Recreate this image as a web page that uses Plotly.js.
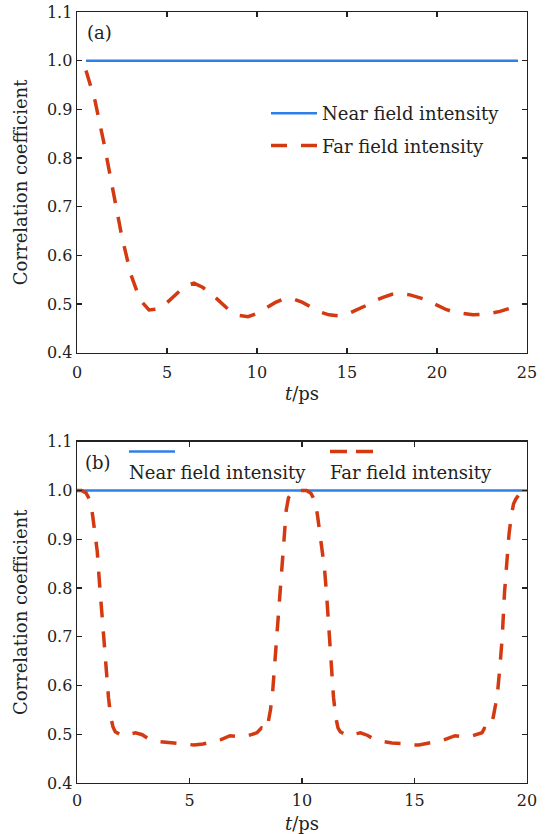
<!DOCTYPE html>
<html>
<head>
<meta charset="utf-8">
<script src="https://cdn.plot.ly/plotly-3.0.1.min.js"></script>
<style>html,body{margin:0;padding:0;background:#fff;}#chart{width:547px;height:834px;}</style>
</head>
<body>
<div id="chart"></div>
<script>
// ---- Panel (a) data ----
const nearA_t = [0.5, 24.5];
const nearA_r = [1.0, 1.0];
const farA_t = [0.5,1.0,1.5,2.0,2.5,3.0,3.5,4.0,4.5,5.0,5.5,6.0,6.5,7.0,7.5,8.0,8.5,9.0,9.5,10.0,10.5,11.0,11.5,12.0,12.5,13.0,13.5,14.0,14.5,15.0,15.5,16.0,16.5,17.0,17.5,18.0,18.5,19.0,19.5,20.0,20.5,21.0,21.5,22.0,22.5,23.0,23.5,24.0,24.5];
const farA_r = [0.980,0.918,0.830,0.737,0.637,0.560,0.509,0.488,0.490,0.503,0.520,0.537,0.543,0.534,0.520,0.503,0.486,0.477,0.474,0.481,0.492,0.503,0.511,0.511,0.504,0.494,0.484,0.478,0.476,0.479,0.487,0.496,0.506,0.514,0.520,0.521,0.519,0.514,0.508,0.498,0.489,0.483,0.480,0.478,0.479,0.481,0.485,0.491,0.495];

// ---- Panel (b) data ----
const nearB_t = [0, 20];
const nearB_r = [1.0, 1.0];
const farB_t = [0,0.2,0.4,0.6,0.7,0.8,0.9,1.0,1.1,1.2,1.3,1.4,1.5,1.6,1.7,1.85,2.0,2.3,2.6,2.9,3.2,3.6,4.0,4.4,4.8,5.2,5.6,6.0,6.4,6.8,7.2,7.6,8.0,8.2,8.4,8.5,8.6,8.7,8.8,8.9,9.0,9.1,9.2,9.3,9.4,9.6,9.8,10.0,10.2,10.4,10.6,10.7,10.8,10.9,11.0,11.1,11.2,11.3,11.4,11.5,11.6,11.7,11.85,12.0,12.3,12.6,12.9,13.2,13.6,14.0,14.4,14.8,15.2,15.6,16.0,16.4,16.8,17.2,17.6,18.0,18.1,18.3,18.5,18.6,18.7,18.8,18.9,19.0,19.1,19.2,19.3,19.4,19.5,19.7,19.9,20.0];
const farB_r = [1.000,1.000,0.995,0.978,0.947,0.915,0.875,0.810,0.745,0.680,0.625,0.575,0.535,0.515,0.505,0.500,0.497,0.500,0.503,0.499,0.490,0.485,0.483,0.482,0.479,0.478,0.480,0.484,0.489,0.497,0.495,0.497,0.503,0.513,0.508,0.525,0.550,0.590,0.655,0.720,0.780,0.850,0.910,0.960,0.985,0.998,1.000,1.000,1.000,0.994,0.976,0.945,0.910,0.877,0.840,0.782,0.710,0.635,0.576,0.535,0.513,0.505,0.500,0.497,0.500,0.503,0.498,0.490,0.485,0.482,0.481,0.478,0.478,0.481,0.485,0.490,0.497,0.495,0.497,0.503,0.512,0.510,0.535,0.560,0.590,0.640,0.700,0.790,0.855,0.910,0.947,0.972,0.982,0.995,1.000,1.000];

const legendNames = ["Near field intensity", "Far field intensity"];
const xTitle = "<i>t</i>/ps";
const yTitle = "Correlation coefficient";

const BLUE = "#2f7fe8";
const RED = "#d43a12";
const FONT = "DejaVu Serif";

const traces = [
  {x: nearA_t, y: nearA_r, xaxis: "x", yaxis: "y", mode: "lines", name: legendNames[0],
   line: {color: BLUE, width: 2.5}, legendgroup: "g1"},
  {x: farA_t, y: farA_r, xaxis: "x", yaxis: "y", mode: "lines", name: legendNames[1],
   line: {color: RED, width: 3.5, dash: "16px,14px"}, legendgroup: "g2"},
  {x: nearB_t, y: nearB_r, xaxis: "x2", yaxis: "y2", mode: "lines", name: legendNames[0],
   line: {color: BLUE, width: 2.5}, showlegend: false},
  {x: farB_t, y: farB_r, xaxis: "x2", yaxis: "y2", mode: "lines", name: legendNames[1],
   line: {color: RED, width: 3.5, dash: "16px,14px"}, showlegend: false}
];

function xax(range, anchor, labelGap, titleGap) {
  return {
    anchor: anchor, range: range, dtick: 5, tick0: 0,
    showline: true, linecolor: "#222", linewidth: 1.4, mirror: "ticks",
    ticks: "inside", ticklen: 5, tickwidth: 1.3, tickcolor: "#222",
    showgrid: false, zeroline: false, ticklabelstandoff: labelGap,
    tickfont: {family: FONT, size: 16, color: "#222"},
    title: {text: xTitle, font: {family: FONT, size: 18, color: "#222"}, standoff: titleGap}
  };
}
function yax(domain, anchor) {
  return {
    anchor: anchor, domain: domain, range: [0.4, 1.1], dtick: 0.1, tick0: 0.4, tickformat: ".1f",
    showline: true, linecolor: "#222", linewidth: 1.4, mirror: "ticks",
    ticks: "inside", ticklen: 5, tickwidth: 1.3, tickcolor: "#222",
    showgrid: false, zeroline: false,
    tickfont: {family: FONT, size: 16, color: "#222"},
    title: {text: yTitle, font: {family: FONT, size: 18, color: "#222"}, standoff: 14}
  };
}

// paper helpers (plot area: x 77..527, y 12..783)
const PX = v => (v - 77) / 450;
const PY = v => (783 - v) / 771;

const layout = {
  width: 547, height: 834,
  margin: {l: 77, r: 20, t: 12, b: 51},
  paper_bgcolor: "#fff", plot_bgcolor: "#fff",
  font: {family: FONT, color: "#222"},
  xaxis: Object.assign(xax([0, 25], "y", 5, 6), {domain: [0, 1]}),
  yaxis: yax([0.558, 1], "x"),
  xaxis2: Object.assign(xax([0, 20], "y2", 2, 9), {domain: [0, 1]}),
  yaxis2: yax([0, 0.4427], "x2"),
  showlegend: true,
  legend: {
    x: PX(266), y: PY(95), xanchor: "left", yanchor: "top",
    bgcolor: "rgba(0,0,0,0)", borderwidth: 0,
    font: {family: FONT, size: 18, color: "#222"},
    itemwidth: 46, traceorder: "grouped", tracegroupgap: 6
  },
  annotations: [
    {xref: "paper", yref: "paper", x: PX(99), y: PY(32), text: "(a)", showarrow: false,
     xanchor: "center", yanchor: "middle", font: {family: FONT, size: 18, color: "#222"}},
    {xref: "paper", yref: "paper", x: PX(98), y: PY(463), text: "(b)", showarrow: false,
     xanchor: "center", yanchor: "middle", font: {family: FONT, size: 18, color: "#222"}},
    {xref: "paper", yref: "paper", x: PX(127), y: PY(472), text: legendNames[0], showarrow: false,
     xanchor: "left", yanchor: "middle", font: {family: FONT, size: 18, color: "#222"}},
    {xref: "paper", yref: "paper", x: PX(328), y: PY(472), text: legendNames[1], showarrow: false,
     xanchor: "left", yanchor: "middle", font: {family: FONT, size: 18, color: "#222"}}
  ],
  shapes: [
    {type: "line", xref: "paper", yref: "paper", x0: PX(129), x1: PX(175), y0: PY(451.5), y1: PY(451.5),
     line: {color: BLUE, width: 2.5}},
    {type: "line", xref: "paper", yref: "paper", x0: PX(330), x1: PX(374), y0: PY(451.5), y1: PY(451.5),
     line: {color: RED, width: 3.5, dash: "17px,9px"}}
  ]
};

Plotly.newPlot("chart", traces, layout, {displayModeBar: false, staticPlot: true});
</script>
</body>
</html>
